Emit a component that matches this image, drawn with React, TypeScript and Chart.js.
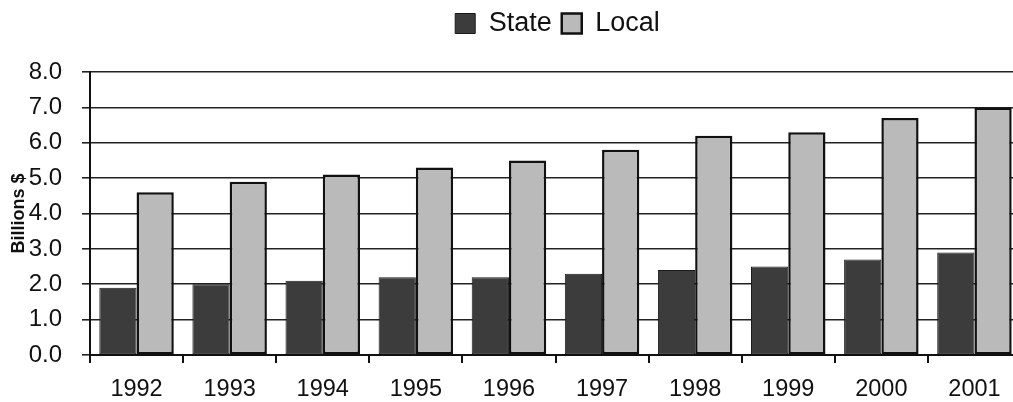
import React, { useEffect, useRef } from 'react';
import { Chart, registerables } from 'chart.js';

Chart.register(...registerables);

const years = ['1992', '1993', '1994', '1995', '1996', '1997', '1998', '1999', '2000', '2001'];
const stateValues = [1.9, 2.0, 2.1, 2.2, 2.2, 2.3, 2.4, 2.5, 2.7, 2.9];
const localValues = [4.6, 4.9, 5.1, 5.3, 5.5, 5.8, 6.2, 6.3, 6.7, 7.0];
const seriesNames = ['State', 'Local'];
const yMin = 0;
const yMax = 8;
const yStep = 1;
const yTitle = 'Billions $';

const FONT = '"Liberation Sans", Arial, Helvetica, sans-serif';

const legendPlacement = {
  id: 'legendPlacement',
  beforeInit(chart: any) {
    const legend = chart.legend;
    if (legend && !legend.__patched) {
      const fit = legend.fit;
      legend.fit = function () {
        fit.call(this);
        this.height += 25;
      };
      legend.__patched = true;
    }
  },
  afterLayout(chart: any) {
    const legend = chart.legend;
    if (legend) {
      legend.left += 45;
      legend.right += 45;
    }
  },
};

export default function App() {
  const canvasRef = useRef<HTMLCanvasElement | null>(null);

  useEffect(() => {
    if (!canvasRef.current) return;
    const chart = new Chart(canvasRef.current, {
      type: 'bar',
      data: {
        labels: years,
        datasets: [
          {
            label: seriesNames[0],
            data: stateValues,
            backgroundColor: '#3c3c3c',
            borderColor: '#1a1a1a',
            borderWidth: 1,
            borderSkipped: false,
            categoryPercentage: 0.8,
            barPercentage: 1.0,
          },
          {
            label: seriesNames[1],
            data: localValues,
            backgroundColor: '#bababa',
            borderColor: '#111111',
            borderWidth: 2.5,
            borderSkipped: false,
            categoryPercentage: 0.8,
            barPercentage: 1.0,
          },
        ],
      },
      options: {
        animation: false,
        responsive: true,
        maintainAspectRatio: false,
        layout: { padding: { left: 4, right: 3, top: 0, bottom: 0 } },
        plugins: {
          legend: {
            display: true,
            position: 'top',
            labels: {
              boxWidth: 20,
              boxHeight: 20,
              padding: 10,
              color: '#111',
              font: { family: FONT, size: 27 },
            },
          },
          tooltip: { enabled: false },
        },
        scales: {
          x: {
            afterFit: (scale: any) => {
              scale.height = 47;
            },
            grid: {
              display: true,
              drawOnChartArea: false,
              drawTicks: true,
              tickLength: 8,
              color: '#111',
              lineWidth: 2,
              offset: true,
            },
            border: { display: true, color: '#111', width: 2 },
            ticks: {
              color: '#111',
              font: { family: FONT, size: 23.5 },
              padding: 12,
              maxRotation: 0,
              autoSkip: false,
            },
          },
          y: {
            min: yMin,
            max: yMax,
            afterFit: (scale: any) => {
              scale.width = 86;
            },
            ticks: {
              stepSize: yStep,
              color: '#111',
              font: { family: FONT, size: 24 },
              padding: 20,
              callback: (v: any) => Number(v).toFixed(1),
            },
            grid: {
              color: '#222',
              lineWidth: 1.6,
              tickLength: 8,
              drawTicks: true,
            },
            border: { display: true, color: '#111', width: 2 },
            title: {
              display: true,
              text: yTitle,
              color: '#111',
              font: { family: FONT, size: 18, weight: 'bold' },
              padding: { top: 4, bottom: 2 },
            },
          },
        },
      },
      plugins: [legendPlacement],
    } as any);
    return () => chart.destroy();
  }, []);

  return (
    <div
      style={{
        position: 'fixed',
        left: 0,
        top: 0,
        width: 1013,
        height: 402,
        overflow: 'hidden',
        background: '#fff',
      }}
    >
      <div style={{ position: 'relative', width: 1024, height: 402 }}>
        <canvas ref={canvasRef} />
      </div>
    </div>
  );
}
